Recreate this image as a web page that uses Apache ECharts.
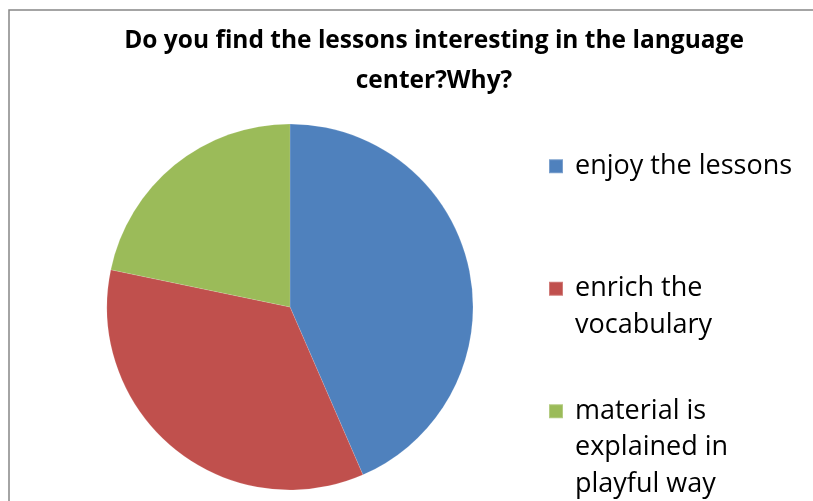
<!DOCTYPE html>
<html>
<head>
<meta charset="utf-8">
<script src="https://cdn.jsdelivr.net/npm/echarts@6/dist/echarts.min.js"></script>
<style>
  html, body { margin: 0; padding: 0; background: #fff; }
  #chart { width: 813px; height: 501px; }
</style>
</head>
<body>
<div id="chart"></div>
<script>
var titleText = 'Do you find the lessons interesting in the language\ncenter?Why?';
var names = ['enjoy the lessons', 'enrich the\nvocabulary', 'material is\nexplained in\nplayful way'];
var values = [20, 16, 10];
var colors = ['#4F81BD', '#C0504D', '#9BBB59'];
var legendTops = [148, 234, 320];

var fontFam = '"Open Sans", Lato, sans-serif';
var lineH = 36.5;

var pieData = [];
for (var i = 0; i < names.length; i++) {
    pieData.push({ name: names[i], value: values[i], itemStyle: { color: colors[i] } });
}

// one legend per item so the icon sits at the first text line
var legends = [];
for (var k = 0; k < names.length; k++) {
    var nLines = names[k].split('\n').length;
    legends.push({
        orient: 'vertical',
        left: 548,
        top: legendTops[k],
        padding: 0,
        data: [names[k]],
        icon: 'rect',
        itemWidth: 14,
        itemHeight: 14,
        selectedMode: false,
        formatter: (function (n) {
            return function (name) {
                var pad = '';
                for (var p = 1; p < n; p++) pad += '\n';
                return pad + name;
            };
        })(nLines),
        textStyle: { fontFamily: fontFam, fontSize: 27, color: '#000', lineHeight: lineH, padding: [0, 0, 0, 7] }
    });
}

var chart = echarts.init(document.getElementById('chart'));
chart.setOption({
    animation: false,
    backgroundColor: '#fff',
    title: {
        text: titleText,
        left: 429,
        top: 16,
        textAlign: 'center',
        textStyle: { fontFamily: fontFam, fontSize: 24.5, fontWeight: 'bold', color: '#000', lineHeight: 40 }
    },
    legend: legends,
    graphic: [{
        type: 'rect',
        shape: { x: 9, y: 10, width: 900, height: 600 },
        style: { fill: 'none', stroke: '#868686', lineWidth: 1.5 },
        silent: true
    }],
    series: [{
        type: 'pie',
        center: [290, 307],
        radius: 183,
        startAngle: 90,
        clockwise: true,
        label: { show: false },
        labelLine: { show: false },
        itemStyle: { borderColor: 'rgba(255,255,255,0.25)', borderWidth: 0.5 },
        emphasis: { disabled: true },
        data: pieData
    }]
});
</script>
</body>
</html>
